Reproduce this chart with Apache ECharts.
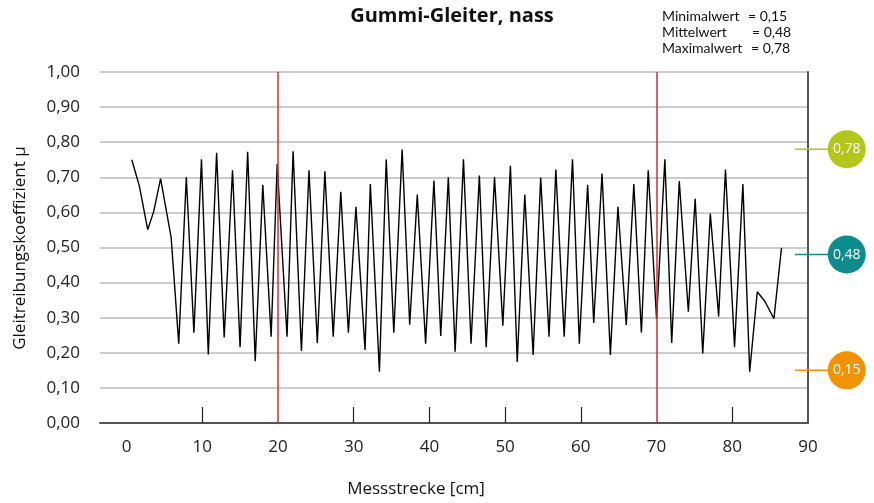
<!DOCTYPE html>
<html>
<head>
<meta charset="utf-8">
<script src="https://cdn.jsdelivr.net/npm/echarts@6/dist/echarts.min.js"></script>
<style>
html,body{margin:0;padding:0;background:#fff;}
#chart{width:874px;height:503px;}
</style>
</head>
<body>
<div id="chart"></div>
<script>
// Messstrecke positions [cm]
const xPositions = [0.7,1.7,2.8,3.6,4.5,5.9,6.9,7.9,8.9,9.9,10.8,11.9,12.9,14.0,15.0,16.0,17.0,18.0,19.1,19.9,
  21.2,22.0,23.1,24.1,25.2,26.2,27.3,28.3,29.3,30.3,31.5,32.2,33.4,34.3,35.3,36.4,37.4,38.4,39.5,40.6,
  41.5,42.5,43.4,44.5,45.5,46.6,47.5,48.6,49.7,50.7,51.6,52.6,53.7,54.7,55.8,56.7,57.8,58.9,59.8,60.9,
  61.7,62.8,63.9,64.9,66.0,67.0,68.0,68.9,70.0,71.1,72.0,73.0,74.2,75.1,76.1,77.1,78.2,79.1,80.3,81.4,
  82.3,83.3,84.3,85.5,86.5];
// Gleitreibungskoeffizient µ
const muValues = [0.750,0.675,0.551,0.603,0.696,0.528,0.226,0.701,0.257,0.751,0.195,0.770,0.244,0.720,0.216,0.773,0.176,0.679,0.246,0.738,
  0.246,0.774,0.205,0.720,0.227,0.717,0.246,0.659,0.257,0.616,0.208,0.681,0.146,0.751,0.257,0.779,0.280,0.651,0.226,0.691,
  0.248,0.700,0.203,0.751,0.226,0.705,0.216,0.701,0.277,0.733,0.174,0.651,0.194,0.699,0.246,0.722,0.246,0.751,0.226,0.679,
  0.285,0.711,0.194,0.616,0.279,0.681,0.257,0.720,0.297,0.751,0.228,0.689,0.317,0.639,0.198,0.597,0.303,0.722,0.216,0.681,
  0.146,0.374,0.347,0.297,0.499];
const xTickLabels = [0,10,20,30,40,50,60,70,80,90];
const xSmallTicks = [10,30,40,50,60,80];
const redLines = [20,70];
const statNames = ['Minimalwert','Mittelwert','Maximalwert'];
const statValues = [0.15,0.48,0.78];
const statColors = ['#f39200','#0e8b8c','#b2c61c'];

const FONT = 'Open Sans';
const fmt = v => v.toFixed(2).replace('.', ',');

const chart = echarts.init(document.getElementById('chart'));
const lineData = xPositions.map((x,i)=>[x, muValues[i]]);

const statLineSeries = statValues.map((v,i)=>({
  type:'line', xAxisIndex:1, yAxisIndex:2, silent:true, symbol:'none',
  data:[[0,v],[0.62,v]], lineStyle:{color:statColors[i], width:1.5}, z:3
}));

const statTexts = [];
statNames.forEach((n,i)=>{
  statTexts.push({type:'text', x:662, y:16+16*i, style:{text:n, font:'14px Lato', fill:'#111', verticalAlign:'middle'}});
  statTexts.push({type:'text', x:[748,752,751][i], y:16+16*i, style:{text:'= '+fmt(statValues[i]), font:'14px Lato', fill:'#111', verticalAlign:'middle'}});
});

chart.setOption({
  animation:false,
  textStyle:{fontFamily:FONT},
  grid:[
    {left:100, right:66, top:72, bottom:80},
    {left:795, right:0, top:72, bottom:80}
  ],
  xAxis:[
    {type:'value', gridIndex:0, min:-3.5, max:90,
     axisLine:{show:true, lineStyle:{color:'#555', width:2}},
     axisTick:{show:true, inside:true, length:16, customValues:xSmallTicks, lineStyle:{color:'#222', width:1.2}},
     axisLabel:{customValues:xTickLabels, color:'#222', fontSize:17, margin:16, fontFamily:FONT},
     splitLine:{show:false}},
    {type:'value', gridIndex:1, min:0, max:1, show:false}
  ],
  yAxis:[
    {type:'value', gridIndex:0, min:0, max:1, interval:0.1,
     axisLine:{show:false}, axisTick:{show:false},
     axisLabel:{formatter:fmt, color:'#222', fontSize:17, margin:20, fontFamily:FONT},
     splitLine:{lineStyle:{color:'#bbb', width:1.5}}},
    {type:'value', gridIndex:0, min:0, max:1, position:'right',
     axisLine:{show:true, lineStyle:{color:'#555', width:2}},
     axisTick:{show:false}, axisLabel:{show:false}, splitLine:{show:false}},
    {type:'value', gridIndex:1, min:0, max:1, show:false}
  ],
  series:[
    {type:'line', xAxisIndex:0, yAxisIndex:0, data:lineData, symbol:'none',
     lineStyle:{color:'#000', width:1.4}, z:4,
     markLine:{silent:true, symbol:'none', label:{show:false},
       lineStyle:{color:'#cc2f36', width:1.5, type:'solid'},
       data:redLines.map(v=>({xAxis:v}))}},
    ...statLineSeries,
    {type:'scatter', xAxisIndex:1, yAxisIndex:2, silent:true, symbolSize:38, z:5,
     data:statValues.map((v,i)=>({value:[0.655,v], itemStyle:{color:statColors[i], opacity:1}})),
     label:{show:true, position:'inside', color:'#fff', fontSize:14, fontFamily:FONT,
       formatter:p=>fmt(p.value[1])}}
  ],
  graphic:[
    {type:'text', x:452, y:16, style:{text:'Gummi-Gleiter, nass', font:'bold 20px "'+FONT+'"', fill:'#111', align:'center', verticalAlign:'middle'}},
    ...statTexts,
    {type:'text', x:20, y:248, rotation:Math.PI/2, style:{text:'Gleitreibungskoeffizient µ', font:'17px "'+FONT+'"', fill:'#111', align:'center', verticalAlign:'middle'}},
    {type:'text', x:416, y:489, style:{text:'Messstrecke [cm]', font:'17px "'+FONT+'"', fill:'#111', align:'center', verticalAlign:'middle'}}
  ]
});
</script>
</body>
</html>
